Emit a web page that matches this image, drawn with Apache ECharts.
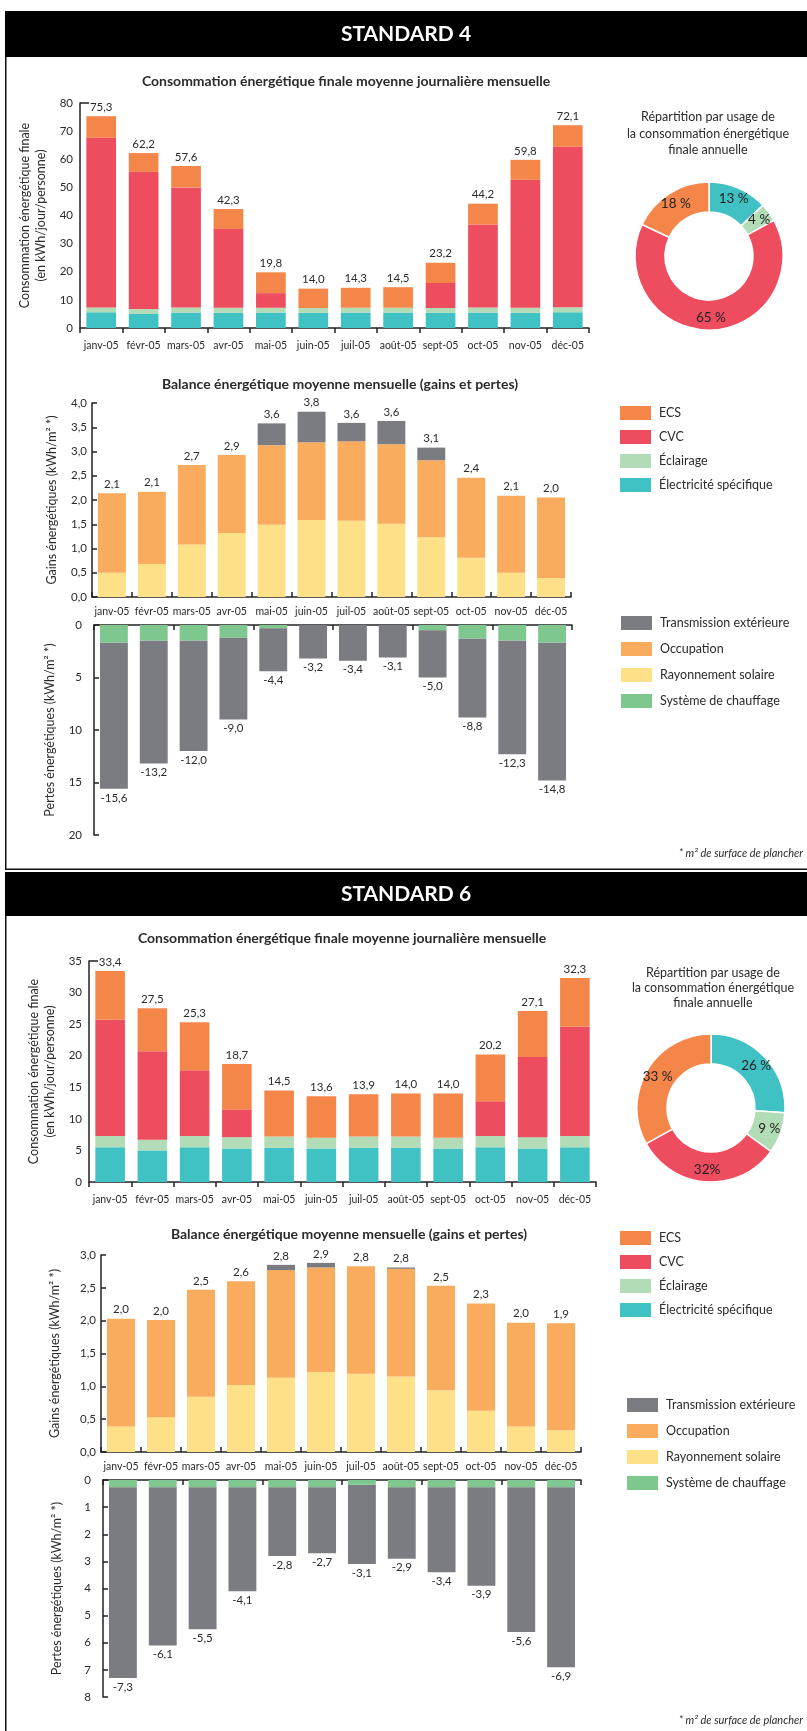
<!DOCTYPE html>
<html>
<head>
<meta charset="utf-8">
<script src="https://cdn.jsdelivr.net/npm/echarts@6/dist/echarts.min.js"></script>
<style>
  html, body { margin: 0; padding: 0; background: #fff; }
  #chart { width: 807px; height: 1731px; }
</style>
</head>
<body>
<div id="chart"></div>
<script>
const months = ['janv-05', 'févr-05', 'mars-05', 'avr-05', 'mai-05', 'juin-05', 'juil-05', 'août-05', 'sept-05', 'oct-05', 'nov-05', 'déc-05']

// STANDARD 4 - consommation (kWh/jour/personne)
const s4Elec = [5.6, 5.0, 5.5, 5.4, 5.5, 5.4, 5.5, 5.5, 5.4, 5.5, 5.4, 5.6]
const s4Ecl = [1.7, 1.8, 1.8, 1.8, 1.7, 1.7, 1.7, 1.7, 1.7, 1.8, 1.8, 1.8]
const s4Cvc = [60.4, 48.7, 42.7, 28.0, 5.2, 0, 0, 0, 8.9, 29.5, 45.5, 57.1]
const s4Ecs = [7.6, 6.7, 7.6, 7.1, 7.4, 6.9, 7.1, 7.3, 7.2, 7.4, 7.1, 7.6]
const s4ConsoTotals = [75.3, 62.2, 57.6, 42.3, 19.8, 14.0, 14.3, 14.5, 23.2, 44.2, 59.8, 72.1]
const s4Pie = [13, 4, 65, 18]
const s4PieLabels = ['13 %', '4 %', '65 %', '18 %']

// STANDARD 4 - balance (kWh/m²)
const s4Sol = [0.50, 0.68, 1.08, 1.32, 1.49, 1.59, 1.57, 1.51, 1.23, 0.81, 0.50, 0.39]
const s4Occ = [1.64, 1.49, 1.64, 1.61, 1.64, 1.60, 1.64, 1.64, 1.59, 1.65, 1.59, 1.66]
const s4TransGain = [0, 0, 0, 0, 0.45, 0.63, 0.38, 0.48, 0.26, 0, 0, 0]
const s4GainTotals = [2.1, 2.1, 2.7, 2.9, 3.6, 3.8, 3.6, 3.6, 3.1, 2.4, 2.1, 2.0]
const s4Chauf = [-1.68, -1.49, -1.49, -1.21, -0.32, 0, 0, 0, -0.51, -1.30, -1.49, -1.68]
const s4LossTotals = [-15.6, -13.2, -12.0, -9.0, -4.4, -3.2, -3.4, -3.1, -5.0, -8.8, -12.3, -14.8]

// STANDARD 6 - consommation
const s6Elec = [5.5, 5.0, 5.5, 5.3, 5.4, 5.3, 5.4, 5.4, 5.3, 5.5, 5.3, 5.5]
const s6Ecl = [1.8, 1.7, 1.8, 1.8, 1.8, 1.7, 1.8, 1.8, 1.7, 1.8, 1.8, 1.8]
const s6Cvc = [18.4, 14.0, 10.4, 4.4, 0, 0, 0, 0, 0, 5.5, 12.7, 17.3]
const s6Ecs = [7.7, 6.8, 7.6, 7.2, 7.3, 6.6, 6.7, 6.8, 7.0, 7.4, 7.3, 7.7]
const s6ConsoTotals = [33.4, 27.5, 25.3, 18.7, 14.5, 13.6, 13.9, 14.0, 14.0, 20.2, 27.1, 32.3]
const s6Pie = [26, 9, 32, 33]
const s6PieLabels = ['26 %', '9 %', '32%', '33 %']

// STANDARD 6 - balance
const s6Sol = [0.39, 0.53, 0.84, 1.02, 1.13, 1.22, 1.19, 1.15, 0.94, 0.63, 0.39, 0.33]
const s6Occ = [1.64, 1.48, 1.63, 1.58, 1.64, 1.59, 1.64, 1.64, 1.59, 1.63, 1.58, 1.63]
const s6TransGain = [0, 0, 0, 0, 0.08, 0.07, 0, 0.02, 0, 0, 0, 0]
const s6GainTotals = [2.0, 2.0, 2.5, 2.6, 2.8, 2.9, 2.8, 2.8, 2.5, 2.3, 2.0, 1.9]
const s6Chauf = [-0.27, -0.27, -0.27, -0.27, -0.27, -0.27, -0.18, -0.27, -0.27, -0.27, -0.27, -0.27]
const s6LossTotals = [-7.3, -6.1, -5.5, -4.1, -2.8, -2.7, -3.1, -2.9, -3.4, -3.9, -5.6, -6.9]

const consoNames = ['Électricité spécifique', 'Éclairage', 'CVC', 'ECS']
const FONT = 'Lato, "Open Sans", sans-serif'
const INK = '#2b2b2b'
const COL = {
  ecs: '#f4864a', cvc: '#ee4c5f', ecl: '#b1dcb6', elec: '#40c1c3',
  trans: '#7b7c81', occ: '#f9ac5e', sol: '#fde087', chauf: '#7ec88f',
}
const fmt = (v) => v.toFixed(1).replace('.', ',')

const axisLine = { show: true, onZero: false, lineStyle: { color: '#222', width: 1.5 } }
const tick = (inside) => ({ show: true, inside, length: 5, lineStyle: { color: '#222', width: 1.5 } })
// only the top value gets a tick on the consumption charts
const topTick = (v) => ({ show: true, inside: true, length: 9, customValues: [v], lineStyle: { color: '#222', width: 1.5 } })
const label = { fontFamily: FONT, fontSize: 10.5, color: INK, interval: 0, hideOverlap: false }

const grids = [
  { left: 80, width: 509, top: 103, height: 225 },
  { left: 92, width: 479, top: 403, height: 194 },
  { left: 94, width: 478, top: 625, height: 210 },
  { left: 89, width: 507, top: 961, height: 221 },
  { left: 101, width: 480, top: 1255, height: 197 },
  { left: 103, width: 478, top: 1480, height: 217 },
]

const xAxis = [
  { gridIndex: 0, type: 'category', data: months, axisLine, axisTick: tick(false), axisLabel: { ...label, margin: 12 } },
  { gridIndex: 1, type: 'category', data: months, axisLine, axisTick: tick(true), axisLabel: { ...label, margin: 9 } },
  { gridIndex: 2, type: 'category', data: months, position: 'top', axisLine, axisTick: tick(true), axisLabel: { show: false } },
  { gridIndex: 3, type: 'category', data: months, axisLine, axisTick: tick(false), axisLabel: { ...label, margin: 12 } },
  { gridIndex: 4, type: 'category', data: months, axisLine, axisTick: tick(true), axisLabel: { ...label, margin: 9 } },
  { gridIndex: 5, type: 'category', data: months, position: 'top', axisLine, axisTick: tick(true), axisLabel: { show: false } },
]

const yName = (text, gap) => ({
  name: text, nameLocation: 'middle', nameRotate: 90, nameGap: gap,
  nameTextStyle: { fontFamily: FONT, fontSize: 12.5, color: INK, lineHeight: 16 },
})

const yLabel = { fontFamily: FONT, fontSize: 11.5, color: INK }

const yAxis = [
  { gridIndex: 0, type: 'value', min: 0, max: 80, interval: 10, axisLine, axisTick: topTick(80), splitLine: { show: false },
    axisLabel: { ...yLabel, margin: 7 }, ...yName('Consommation énergétique finale\n(en kWh/jour/personne)', 26) },
  { gridIndex: 1, type: 'value', min: 0, max: 4, interval: 0.5, axisLine, axisTick: tick(true), splitLine: { show: false },
    axisLabel: { ...yLabel, margin: 5, formatter: fmt }, ...yName('Gains énergétiques (kWh/m² *)', 32) },
  { gridIndex: 2, type: 'value', min: -20, max: 0, interval: 5, axisLine, axisTick: tick(true), splitLine: { show: false },
    axisLabel: { ...yLabel, margin: 12, formatter: (v) => String(Math.abs(v)) }, ...yName('Pertes énergétiques (kWh/m² *)', 34) },
  { gridIndex: 3, type: 'value', min: 0, max: 35, interval: 5, axisLine, axisTick: topTick(35), splitLine: { show: false },
    axisLabel: { ...yLabel, margin: 7 }, ...yName('Consommation énergétique finale\n(en kWh/jour/personne)', 30) },
  { gridIndex: 4, type: 'value', min: 0, max: 3, interval: 0.5, axisLine, axisTick: tick(true), splitLine: { show: false },
    axisLabel: { ...yLabel, margin: 5, formatter: fmt }, ...yName('Gains énergétiques (kWh/m² *)', 38) },
  { gridIndex: 5, type: 'value', min: -8, max: 0, interval: 1, axisLine, axisTick: tick(true), splitLine: { show: false },
    axisLabel: { ...yLabel, margin: 12, formatter: (v) => String(Math.abs(v)) }, ...yName('Pertes énergétiques (kWh/m² *)', 38) },
]

const bar = (name, axis, stack, data, color, extra) => ({
  type: 'bar', name, xAxisIndex: axis, yAxisIndex: axis, stack, data,
  barCategoryGap: '30%', itemStyle: { color }, emphasis: { disabled: true }, ...extra,
})

const totalLabel = (totals, position) => ({
  label: {
    show: true, position, distance: 3, fontFamily: FONT, fontSize: 11.5, color: INK,
    formatter: (p) => fmt(totals[p.dataIndex]),
  },
})

const consoSeries = (axis, elec, ecl, cvc, ecs, totals) => [
  bar('Électricité spécifique', axis, 'c' + axis, elec, COL.elec),
  bar('Éclairage', axis, 'c' + axis, ecl, COL.ecl),
  bar('CVC', axis, 'c' + axis, cvc, COL.cvc),
  bar('ECS', axis, 'c' + axis, ecs, COL.ecs, totalLabel(totals, 'top')),
]

const gainSeries = (axis, sol, occ, trans, totals) => [
  bar('Rayonnement solaire', axis, 'g' + axis, sol, COL.sol),
  bar('Occupation', axis, 'g' + axis, occ, COL.occ),
  bar('Transmission extérieure', axis, 'g' + axis, trans, COL.trans, totalLabel(totals, 'top')),
]

const lossSeries = (axis, chauf, totals) => [
  bar('Système de chauffage', axis, 'l' + axis, chauf, COL.chauf),
  bar('Transmission extérieure', axis, 'l' + axis, totals.map((t, i) => +(t - chauf[i]).toFixed(2)), COL.trans,
    totalLabel(totals, 'bottom')),
]

const pieColors = [COL.elec, COL.ecl, COL.cvc, COL.ecs]
const pie = (center, values, labels) => ({
  type: 'pie', center, radius: [44, 74], startAngle: 90, clockwise: true,
  silent: true, emphasis: { disabled: true },
  itemStyle: { borderColor: '#fff', borderWidth: 1.5 },
  label: {
    show: true, position: 'inside', fontFamily: FONT, fontSize: 13.5, color: '#222',
    formatter: (p) => labels[p.dataIndex],
  },
  labelLine: { show: false },
  data: values.map((v, i) => ({ name: consoNames[i], value: v, itemStyle: { color: pieColors[i] } })),
})

const legend = (top, names, left, gap) => ({
  orient: 'vertical', left, top, itemWidth: 31, itemHeight: 14, itemGap: gap, icon: 'rect',
  selectedMode: false, data: names,
  textStyle: { fontFamily: FONT, fontSize: 12.5, color: INK, padding: [0, 0, 0, 3] },
})

const txt = (text, x, y, font, extra) => ({
  type: 'text', x, y, silent: true,
  style: { text, font, fill: INK, textAlign: 'center', textVerticalAlign: 'middle', ...extra },
})

const boldTitle = 'bold 14px ' + FONT
const pieTitleFont = '12.5px ' + FONT
const band = 'bold 21px ' + FONT

const graphic = [
  { type: 'rect', silent: true, shape: { x: 5, y: 11, width: 802, height: 46 }, style: { fill: '#000' } },
  txt('STANDARD 4', 406, 34, band, { fill: '#fff' }),
  { type: 'line', silent: true, shape: { x1: 5.75, y1: 57, x2: 5.75, y2: 869 }, style: { stroke: '#111', lineWidth: 1.5 } },
  { type: 'line', silent: true, shape: { x1: 5, y1: 869.25, x2: 807, y2: 869.25 }, style: { stroke: '#111', lineWidth: 1.5 } },
  { type: 'rect', silent: true, shape: { x: 5, y: 872, width: 802, height: 44 }, style: { fill: '#000' } },
  txt('STANDARD 6', 406, 894, band, { fill: '#fff' }),
  { type: 'line', silent: true, shape: { x1: 5.75, y1: 916, x2: 5.75, y2: 1731 }, style: { stroke: '#111', lineWidth: 1.5 } },

  txt('Consommation énergétique finale moyenne journalière mensuelle', 346, 81, boldTitle),
  txt('Balance énergétique moyenne mensuelle (gains et pertes)', 340, 384, boldTitle),
  txt('Consommation énergétique finale moyenne journalière mensuelle', 342, 938, boldTitle),
  txt('Balance énergétique moyenne mensuelle (gains et pertes)', 349, 1234, boldTitle),

  txt('Répartition par usage de', 708, 117, pieTitleFont),
  txt('la consommation énergétique', 708, 133.5, pieTitleFont),
  txt('finale annuelle', 708, 150, pieTitleFont),
  txt('Répartition par usage de', 713, 973, pieTitleFont),
  txt('la consommation énergétique', 713, 988, pieTitleFont),
  txt('finale annuelle', 713, 1003, pieTitleFont),

  txt('* m² de surface de plancher', 803, 853, 'italic 11px ' + FONT, { textAlign: 'right' }),
  txt('* m² de surface de plancher', 803, 1720, 'italic 11px ' + FONT, { textAlign: 'right' }),
]

const chart = echarts.init(document.getElementById('chart'))
chart.setOption({
  animation: false,
  backgroundColor: '#fff',
  textStyle: { fontFamily: FONT },
  grid: grids,
  xAxis,
  yAxis,
  legend: [
    legend(401, ['ECS', 'CVC', 'Éclairage', 'Électricité spécifique'], 615, 10),
    legend(611, ['Transmission extérieure', 'Occupation', 'Rayonnement solaire', 'Système de chauffage'], 616, 12),
    legend(1226, ['ECS', 'CVC', 'Éclairage', 'Électricité spécifique'], 615, 10),
    legend(1393, ['Transmission extérieure', 'Occupation', 'Rayonnement solaire', 'Système de chauffage'], 622, 12),
  ],
  graphic,
  series: [
    ...consoSeries(0, s4Elec, s4Ecl, s4Cvc, s4Ecs, s4ConsoTotals),
    ...gainSeries(1, s4Sol, s4Occ, s4TransGain, s4GainTotals),
    ...lossSeries(2, s4Chauf, s4LossTotals),
    ...consoSeries(3, s6Elec, s6Ecl, s6Cvc, s6Ecs, s6ConsoTotals),
    ...gainSeries(4, s6Sol, s6Occ, s6TransGain, s6GainTotals),
    ...lossSeries(5, s6Chauf, s6LossTotals),
    pie([709, 256], s4Pie, s4PieLabels),
    pie([711, 1108], s6Pie, s6PieLabels),
  ],
})
</script>
</body>
</html>
